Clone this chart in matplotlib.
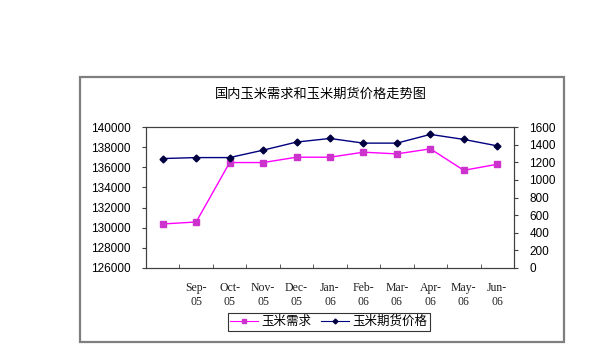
import matplotlib
matplotlib.use("Agg")
import matplotlib.pyplot as plt
from matplotlib.patches import Rectangle
from matplotlib.ticker import FixedLocator, MultipleLocator

plt.rcParams['font.family'] = ['Noto Sans CJK SC', 'DejaVu Sans']

# ---- data ----
categories = ['', 'Sep-05', 'Oct-05', 'Nov-05', 'Dec-05', 'Jan-06', 'Feb-06',
              'Mar-06', 'Apr-06', 'May-06', 'Jun-06']
demand = [130370, 130570, 136470, 136470, 137000, 137000, 137500, 137330,
          137830, 135700, 136300]
futures_price = [1242, 1253, 1253, 1337, 1429, 1470, 1417, 1417, 1516, 1459, 1386]
title = '国内玉米需求和玉米期货价格走势图'
label_demand = '玉米需求'
label_price = '玉米期货价格'

W, H = 608, 354
fig = plt.figure(figsize=(W / 100, H / 100), dpi=100)
fig.patch.set_facecolor('white')

# chart border
fig.patches.append(Rectangle((79.5 / W, 1 - 341.7 / H), (564 - 79.5) / W, (341.7 - 76.7) / H,
                             transform=fig.transFigure, fill=False,
                             edgecolor='#7f7f7f', lw=1.6))

left, right, top, bottom = 146, 514, 127, 268
ax = fig.add_axes([left / W, 1 - bottom / H, (right - left) / W, (bottom - top) / H])
ax2 = ax.twinx()

x = list(range(len(categories)))
l1, = ax.plot(x, demand, color='#FF00FF', lw=1.0, marker='s', markersize=4,
              markerfacecolor='#CC33CC', markeredgecolor='#CC33CC', label=label_demand)
l2, = ax2.plot(x, futures_price, color='#000080', lw=1.0, marker='D', markersize=3.5,
               markerfacecolor='#000040', markeredgecolor='#000040', label=label_price)

ax.set_xlim(-0.5, len(categories) - 0.5)
ax.set_ylim(126000, 140000)
ax.yaxis.set_major_locator(MultipleLocator(2000))
ax2.set_ylim(0, 1600)
ax2.yaxis.set_major_locator(MultipleLocator(200))

ax.set_xticks(x)
ax.set_xticklabels([c.replace('-', '-\n') for c in categories],
                   family='Liberation Serif', fontsize=8.5, linespacing=1.25,
                   color='#202020')
ax.xaxis.set_minor_locator(FixedLocator([i + 0.5 for i in range(len(categories) - 1)]))
ax.tick_params(axis='x', which='major', length=0, pad=10)
ax.tick_params(axis='x', which='minor', length=3, direction='in', color='#404040')

for a in (ax, ax2):
    for s in a.spines.values():
        s.set_color('#404040')
        s.set_linewidth(0.8)
ax.tick_params(axis='y', length=3, direction='out', pad=8, labelsize=8.5, color='#404040')
ax2.tick_params(axis='y', length=3, direction='out', pad=8, labelsize=8.5, color='#404040')
for lab in ax.get_yticklabels() + ax2.get_yticklabels():
    lab.set_family('Liberation Sans')

fig.text(321 / W, 1 - 94 / H, title, ha='center', va='center', fontsize=9.5)

leg = fig.legend(handles=[l1, l2], loc='center', bbox_to_anchor=(329 / W, 1 - 321.5 / H),
                 ncol=2, fontsize=9, frameon=True, fancybox=False, edgecolor='black',
                 handlelength=2.2, columnspacing=0.8, handletextpad=0.3,
                 borderpad=0.2, markerscale=0.7)
leg.get_frame().set_linewidth(0.8)
for ln in leg.get_lines():
    ln.set_linewidth(0.8)

fig.savefig('out.png', dpi=100)
